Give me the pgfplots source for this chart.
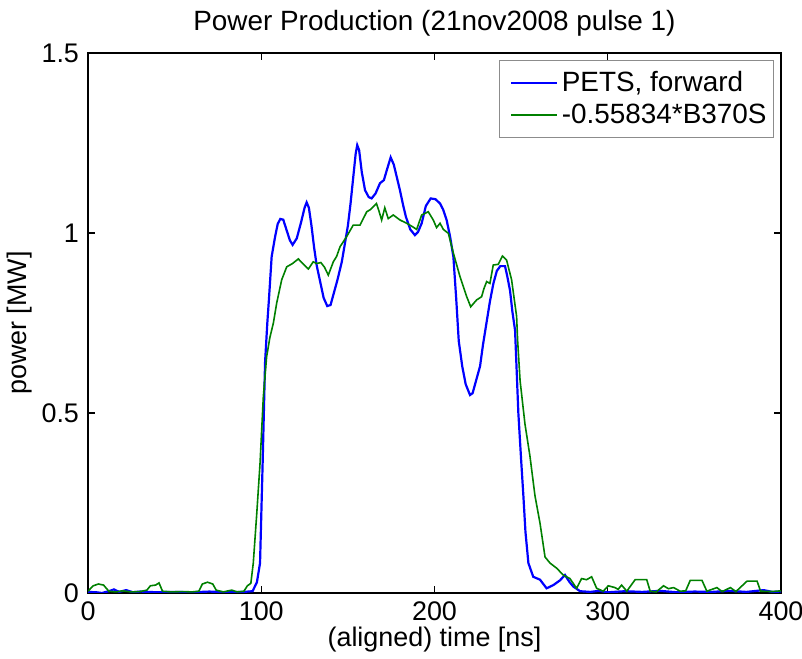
\documentclass[border=0pt]{standalone}
\usepackage{pgfplots}
\pgfplotsset{compat=1.18}
\usepackage{fontspec}
\setmainfont{Liberation Sans}
\definecolor{mblue}{rgb}{0,0,1}
\definecolor{mgreen}{rgb}{0,0.5,0}
\begin{document}
\begin{tikzpicture}
\begin{axis}[
  scale only axis, width=346.5bp, height=270bp,
  xmin=0, xmax=400, ymin=0, ymax=1.5,
  xtick={0,100,200,300,400}, ytick={0,0.5,1,1.5},
  yticklabels={0,0.5,1,1.5},
  tick align=inside, major tick length=3.5bp,
  xtick pos=both, ytick pos=both,
  axis line style={line width=0.7bp},
  tick style={line width=0.7bp, black},
  font=\fontsize{13.5}{16}\selectfont,
  /pgf/number format/assume math mode=true,
  ticklabel style={font=\fontsize{13.5}{16}\selectfont},
  xticklabel style={yshift=-1bp},
  yticklabel style={xshift=-1bp},
  title={Power Production (21nov2008 pulse 1)},
  title style={font=\fontsize{14}{16}\selectfont, yshift=-1bp},
  xlabel={(aligned) time [ns]},
  ylabel={power [MW]},
  xlabel style={yshift=4bp},
  ylabel style={yshift=-2bp},
  legend style={at={(0.99,0.987)}, anchor=north east, draw=black!45, line width=0.5bp,
    font=\fontsize{14}{16}\selectfont, inner xsep=1.5bp, inner ysep=3.5bp,
    row sep=0.5bp, cells={anchor=west},
    nodes={inner xsep=2bp}},
  legend image code/.code={\path (0bp,0bp); \draw[#1] (4bp,0bp) -- (27bp,0bp);},
  legend image post style={line width=0.65bp},
  legend cell align=left,
]
\addplot[mblue, line width=1.1bp] coordinates {
(0,0.003) (5,0.002) (8,0.0) (12,0.005) (15,0.01) (18,0.003) (22,0.008) (26,0.002) (30,0.004)
(40,0.002) (50,0.003) (60,0.002) (70,0.004) (80,0.002) (90,0.003) (95,0.005) (97.5,0.03)
(99.3,0.083) (100.8,0.36) (102.2,0.64) (103.5,0.75) (104.5,0.82) (106,0.934) (108,0.99)
(109.5,1.025) (111,1.039) (112.7,1.037) (114.5,1.01) (116.5,0.98) (118.1,0.967) (120.5,0.985)
(123,1.03) (125,1.07) (126.2,1.085) (127.5,1.07) (129,1.02) (130.5,0.96) (132,0.91) (134,0.865)
(136,0.82) (138.1,0.797) (140,0.80) (142,0.835) (144,0.87) (146.5,0.92) (148.3,0.971) (150,1.02)
(151.5,1.08) (153,1.15) (154.5,1.22) (155.4,1.244) (156.5,1.23) (158,1.17) (159.9,1.119)
(162,1.10) (163.7,1.096) (166,1.11) (168.5,1.138) (170.8,1.147) (172.5,1.175) (174.7,1.21)
(176.5,1.19) (178,1.16) (180,1.12) (182,1.075) (183.5,1.045) (186,1.01) (188.7,0.994)
(190.5,1.003) (192.6,1.027) (195,1.075) (197.8,1.096) (200.5,1.094) (203.2,1.082) (205,1.065)
(207,1.036) (209,0.99) (210.9,0.934) (212.5,0.82) (214,0.70) (216,0.63) (218,0.58) (220.5,0.55)
(222,0.555) (224,0.59) (226.3,0.63) (228,0.69) (230,0.75) (232,0.81) (234,0.86) (236,0.895)
(238,0.908) (240.7,0.908) (242,0.88) (243.6,0.84) (245,0.78) (246.5,0.73) (248.4,0.50)
(250,0.37) (251.3,0.27) (252.5,0.17) (254.2,0.083) (257,0.045) (260.9,0.037) (264.7,0.013)
(268.6,0.022) (272.4,0.035) (275.3,0.05) (278,0.03) (280.1,0.018) (284,0.005) (290,0.003)
(295,0.006) (300,0.002) (310,0.005) (320,0.003) (330,0.006) (340,0.002) (350,0.004)
(360,0.003) (370,0.006) (380,0.003) (390,0.008) (395,0.003) (400,0.004)
};
\addlegendentry{PETS, forward}
\addplot[mgreen, line width=0.8bp] coordinates {
(0,0.005) (3,0.02) (6,0.025) (9,0.022) (12,0.005) (16,0.003) (20,0.006) (25,0.003) (30,0.004)
(34,0.008) (36,0.02) (39,0.022) (41,0.028) (43,0.005) (48,0.003) (55,0.004) (60,0.003)
(64,0.005) (66,0.025) (69,0.03) (72,0.025) (74,0.008) (78,0.003) (83,0.008) (86,0.003)
(90,0.005) (92,0.02) (94,0.027) (95.4,0.083) (97.4,0.22) (99.3,0.36) (101.2,0.545)
(103.1,0.656) (105,0.71) (107,0.75) (108.9,0.805) (111.8,0.87) (114.7,0.906) (118,0.915)
(121.4,0.928) (124,0.915) (127.2,0.90) (130,0.92) (132,0.915) (134.4,0.918) (136.5,0.905)
(138.7,0.883) (141.6,0.92) (143.5,0.935) (145.5,0.962) (149.3,0.99) (153.1,1.022) (157,1.022)
(160.9,1.059) (163,1.065) (165.7,1.078) (166.5,1.082) (168,1.06) (169.5,1.036) (171.3,1.07)
(173.3,1.04) (176.2,1.05) (180.1,1.036) (184,1.027) (187.8,1.016) (189.7,1.01) (192.6,1.05)
(196.4,1.059) (199.3,1.036) (201.2,1.015) (203.2,1.027) (205.1,1.01) (208,0.999) (210.9,0.944)
(214.7,0.879) (218.6,0.823) (220.9,0.795) (224.3,0.814) (227.2,0.823) (228.5,0.845)
(230.1,0.865) (232,0.86) (233.9,0.911) (236.8,0.913) (239.2,0.936) (241.6,0.925) (244.5,0.87)
(247.4,0.768) (248,0.70) (249.4,0.59) (252.2,0.47) (255.1,0.38) (258,0.27) (260.9,0.194)
(263.8,0.10) (266.7,0.083) (270.5,0.069) (274.3,0.05) (278.2,0.04) (282,0.013) (284.9,0.04)
(287.8,0.037) (290.7,0.045) (293.6,0.013) (297.4,0.005) (300.3,0.02) (304.2,0.015) (306,0.01)
(308,0.022) (311,0.005) (315.8,0.037) (322.5,0.037) (324.5,0.005) (328,0.003) (332.2,0.02)
(335,0.012) (338,0.015) (341.8,0.005) (345,0.006) (347.6,0.035) (354.4,0.035) (357.2,0.005)
(363,0.015) (366,0.004) (370.8,0.015) (374,0.004) (380.4,0.033) (386.2,0.033) (388.2,0.005)
(395,0.004) (400,0.006)
};
\addlegendentry{-0.55834*B370S}
\end{axis}
\pgfresetboundingbox
\path ([xshift=-44bp,yshift=-33bp]current axis.south west) rectangle ([xshift=10.5bp,yshift=26.5bp]current axis.north east);
\end{tikzpicture}
\end{document}
